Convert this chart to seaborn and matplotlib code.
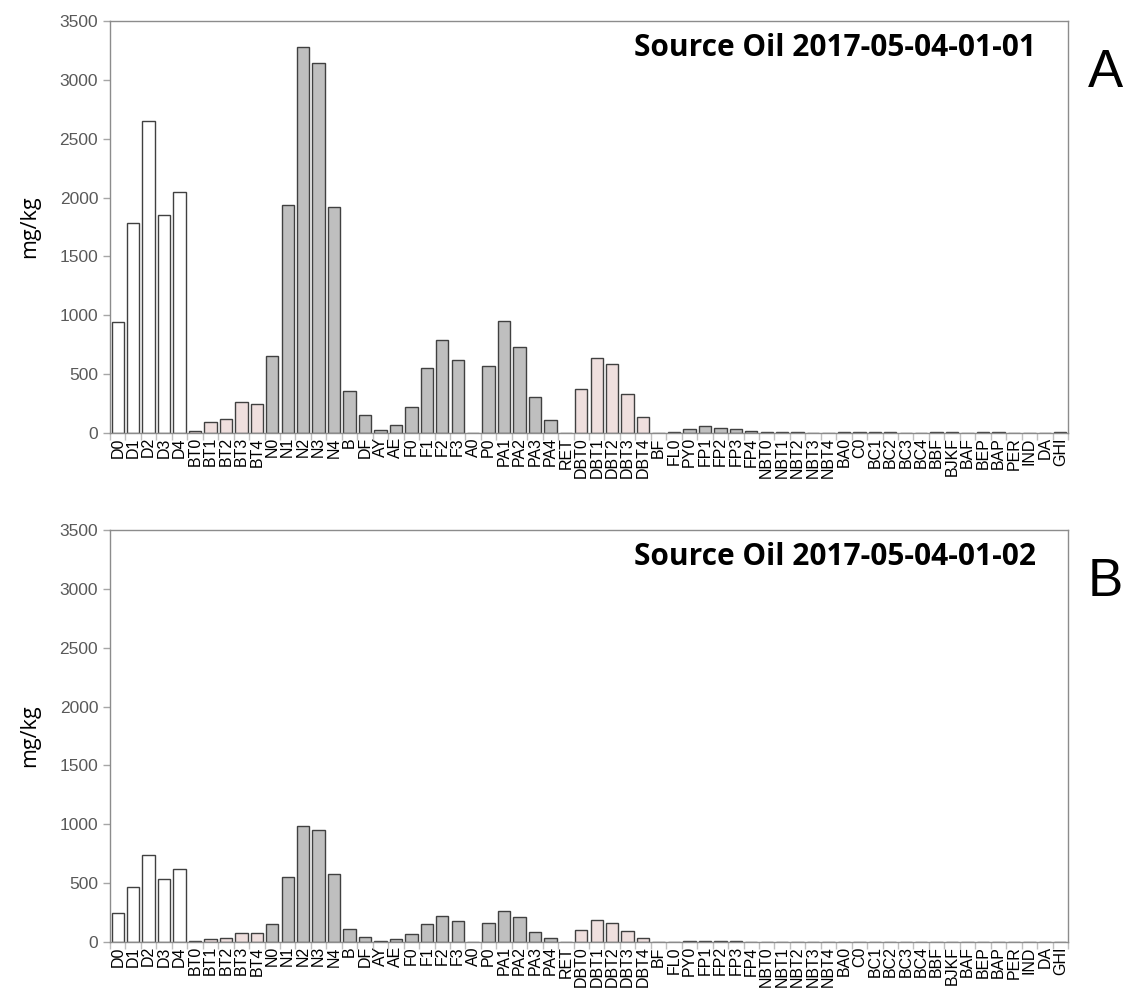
import numpy as np
import pandas as pd
import seaborn as sns
import matplotlib.pyplot as plt
from matplotlib.ticker import MultipleLocator, FixedLocator

compounds = ["D0", "D1", "D2", "D3", "D4", "BT0", "BT1", "BT2", "BT3", "BT4",
             "N0", "N1", "N2", "N3", "N4", "B", "DF", "AY", "AE",
             "F0", "F1", "F2", "F3", "A0", "P0", "PA1", "PA2", "PA3", "PA4",
             "RET", "DBT0", "DBT1", "DBT2", "DBT3", "DBT4", "BF", "FL0", "PY0",
             "FP1", "FP2", "FP3", "FP4", "NBT0", "NBT1", "NBT2", "NBT3", "NBT4",
             "BA0", "C0", "BC1", "BC2", "BC3", "BC4", "BBF", "BJKF", "BAF",
             "BEP", "BAP", "PER", "IND", "DA", "GHI"]

# colour group of each compound
groups = (["alkane"] * 5 + ["bt"] * 5 + ["pah"] * 20 + ["bt"] * 5 + ["pah"] * 27)

oil_01 = [940, 1780, 2650, 1850, 2050, 15, 95, 120, 260, 250,
          650, 1940, 3280, 3140, 1920, 355, 150, 25, 70,
          220, 550, 790, 620, 0, 570, 955, 730, 305, 110,
          0, 375, 640, 590, 330, 135, 0, 10, 30,
          55, 45, 30, 15, 6, 5, 5, 0, 0,
          5, 5, 5, 5, 0, 0, 5, 5, 0,
          5, 5, 0, 0, 0, 6]

oil_02 = [245, 470, 740, 535, 620, 8, 25, 35, 80, 80,
          150, 550, 985, 955, 575, 110, 45, 10, 25,
          65, 150, 225, 180, 0, 165, 260, 210, 85, 30,
          0, 105, 185, 165, 90, 35, 0, 3, 5,
          10, 10, 5, 3, 2, 2, 2, 0, 0,
          2, 2, 2, 2, 0, 0, 0, 0, 0,
          0, 0, 0, 0, 0, 3]

titles = ["Source Oil 2017-05-04-01-01", "Source Oil 2017-05-04-01-02"]
letters = ["A", "B"]
palette = {"alkane": "#ffffff", "bt": "#f2dcdb", "pah": "#bfbfbf"}

sns.set_style("white")
plt.rcParams['font.family'] = ['Liberation Sans', 'DejaVu Sans']

fig = plt.figure(figsize=(11.31, 9.96), dpi=100)
ax_a = fig.add_axes([0.0973, 0.5653, 0.8470, 0.4136])
ax_b = fig.add_axes([0.0973, 0.0542, 0.8470, 0.4136])

for ax, vals, title, letter in zip([ax_a, ax_b], [oil_01, oil_02], titles, letters):
    df = pd.DataFrame({"compound": compounds, "mgkg": vals, "group": groups})
    sns.barplot(data=df, x="compound", y="mgkg", hue="group", palette=palette,
                dodge=False, legend=False, width=0.8, edgecolor="#404040",
                linewidth=1.0, ax=ax)
    ax.set_xlim(-0.5, len(compounds) - 0.5)
    ax.set_ylim(0, 3500)
    ax.yaxis.set_major_locator(MultipleLocator(500))
    ax.tick_params(axis="y", labelsize=12.5, labelcolor="#595959", color="#a6a6a6",
                   length=5, width=1, left=True, direction="out")
    ax.tick_params(axis="x", which="major", length=0, labelsize=11.5, pad=3,
                   labelcolor="black")
    ax.set_xticks(range(len(compounds)))
    ax.set_xticklabels(compounds, rotation=90)
    ax.xaxis.set_minor_locator(FixedLocator(np.arange(-0.5, len(compounds), 1)))
    ax.tick_params(axis="x", which="minor", length=5, width=1, color="#c0c0c0",
                   bottom=True, direction="out")
    for s in ax.spines.values():
        s.set_color("#8c8c8c")
        s.set_linewidth(1.0)
    ax.set_xlabel("")
    ax.set_ylabel("mg/kg", fontsize=15.5, labelpad=14, color="black",
                  family=["Open Sans", "DejaVu Sans"])
    ax.text(0.967, 0.935, title, transform=ax.transAxes, ha="right", va="center",
            fontsize=21.5, fontweight="bold", color="black",
            family=["Open Sans", "DejaVu Sans"])
    ax.text(1.0386, 0.873, letter, transform=ax.transAxes, ha="center", va="center",
            fontsize=38, color="black")

fig.savefig("out.png", dpi=100)
